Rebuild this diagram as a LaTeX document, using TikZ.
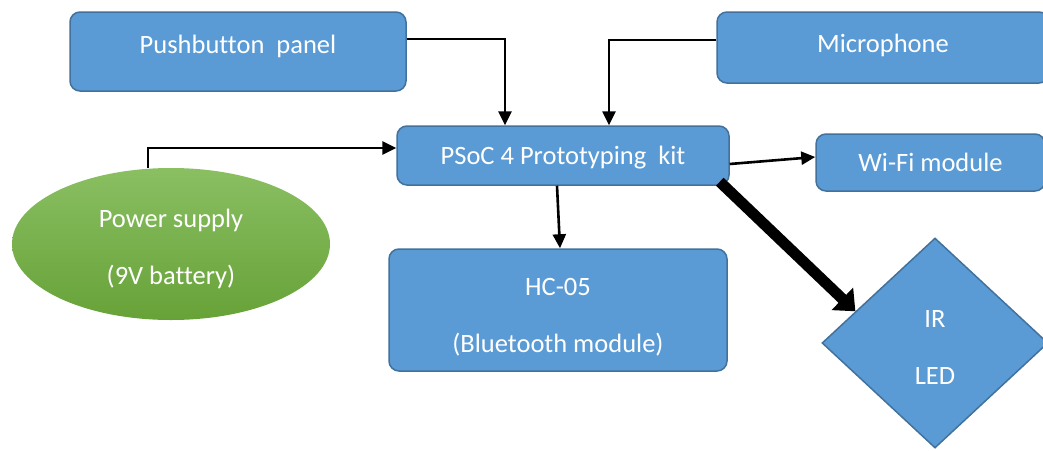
\documentclass[tikz,border=0pt]{standalone}
\usepackage{fontspec}
\setmainfont{Carlito}[Ligatures={NoCommon}]
\usetikzlibrary{shapes.geometric,arrows.meta,calc}
\definecolor{boxblue}{HTML}{5B9BD5}
\definecolor{boxedge}{HTML}{41719C}
\definecolor{greentop}{HTML}{8ABF62}
\definecolor{greenbot}{HTML}{67A238}
\begin{document}
\begin{tikzpicture}[x=1pt,y=-1pt,
  txt/.style={text=white, font=\fontsize{26.5}{57}\selectfont, inner sep=2pt, align=center},
  box/.style={txt, draw=boxedge, line width=1.5pt, fill=boxblue, rounded corners=10pt},
  conn/.style={line width=2.6pt, -{Triangle[length=14pt,width=13pt]}},
  thick conn/.style={line width=11pt, -{Triangle[length=18pt,width=30pt]}}]
\useasboundingbox (0,0) rectangle (1043,450);
\fill[white] (0,0) rectangle (1043,450);
\clip (0,0) rectangle (1043,450);

\node[box, minimum width=336pt, minimum height=79pt, text depth=15pt] (push) at (238,51.5) {Pushbutton\ \ panel};
\node[box, minimum width=332pt, minimum height=71pt, text depth=9pt] (mic) at (883,47.5) {Microphone};
\node[box, minimum width=332pt, minimum height=59pt, text depth=0pt] (psoc) at (563,155.5) {PSoC 4 Prototyping\ \ kit};
\node[box, minimum width=229pt, minimum height=57pt, text depth=0pt] (wifi) at (930.5,162.5) {Wi-Fi module};
\node[box, minimum width=338pt, minimum height=122pt] (hc) at (558,310) {\rule{0pt}{31pt}HC-05\\(Bluetooth module)};
\node[txt, ellipse, top color=greentop, bottom color=greenbot, minimum width=318pt, minimum height=152pt, inner sep=0pt] (power) at (171,244) {\rule{0pt}{28pt}Power supply\\(9V battery)};
\node[txt, diamond, draw=boxedge, line width=1.5pt, fill=boxblue, minimum width=226pt, minimum height=210pt, inner sep=0pt] (ir) at (935,343) {\rule{0pt}{26pt}IR\\LED};

\draw[conn] ([yshift=12.5pt]push.east) -| ([xshift=-58pt]psoc.north);
\draw[conn] ([yshift=7.5pt]mic.west) -| ([xshift=46pt]psoc.north);
\draw[conn] ([xshift=-23pt]power.north) |- ([yshift=7.5pt]psoc.west);
\draw[conn] ([yshift=-8.5pt]psoc.east) -- ([yshift=5.5pt]wifi.west);
\draw[conn] ([xshift=-6pt]psoc.south) -- ([xshift=2pt]hc.north);
\draw[thick conn] ([xshift=-10pt,yshift=4pt]psoc.south east) -- ($(ir.west)!0.3!(ir.north)$);
\end{tikzpicture}
\end{document}
